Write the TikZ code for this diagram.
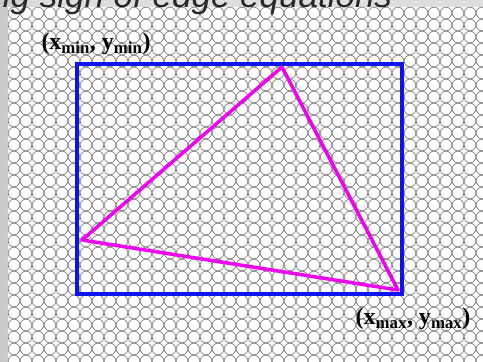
\documentclass[tikz,border=0pt]{standalone}
\usepackage{fontspec}
\setmainfont{Liberation Serif}
\setsansfont{Liberation Sans}
\definecolor{bgray}{RGB}{222,222,222}
\definecolor{dgray}{RGB}{200,200,200}
\definecolor{circgray}{RGB}{140,140,140}
\definecolor{boxblue}{RGB}{10,20,235}
\definecolor{trimag}{RGB}{240,0,240}
\definecolor{titlegray}{RGB}{40,40,40}
\begin{document}
\begin{tikzpicture}[x=1pt,y=-1pt,
  gridcirc/.style={draw=circgray,line width=0.8pt,fill=white},
  boxline/.style={draw=boxblue,line width=3.5pt},
  triline/.style={draw=trimag,line width=3.5pt,line join=round,line cap=round},
  lbl/.style={font=\fontsize{24}{26}\selectfont\bfseries,inner sep=0pt,text=black}]
\useasboundingbox (0,0) rectangle (483,362);
\fill[bgray] (0,0) rectangle (483,362);
\shade[left color=dgray,right color=bgray] (0,0) rectangle (40,362);
\fill[white] (8,7) rectangle (483,362);
\foreach \i in {0,...,39}{
  \foreach \j in {0,...,29}{
    \draw[gridcirc] (14+12*\i,13+12*\j) circle (5.8);
  }
}
\node[anchor=base west,inner sep=0pt,text=titlegray,font=\sffamily\itshape\fontsize{35}{37}\selectfont] (title) at (-9,7) {ng sign of edge equations};
\coordinate (tl) at (77,64);
\coordinate (br) at (402,294);
\draw[boxline] (tl) rectangle (br);
\coordinate (va) at (282,67);
\coordinate (vb) at (82,240);
\coordinate (vc) at (398,290);
\draw[triline] (va) -- (vb) -- (vc) -- cycle;
\node[lbl,anchor=center] (minlbl) at (96,44) {(x$_{\mathbf{min}}$, y$_{\mathbf{min}}$)};
\node[lbl,anchor=center] (maxlbl) at (413,319) {(x$_{\mathbf{max}}$, y$_{\mathbf{max}}$)};
\end{tikzpicture}
\end{document}
